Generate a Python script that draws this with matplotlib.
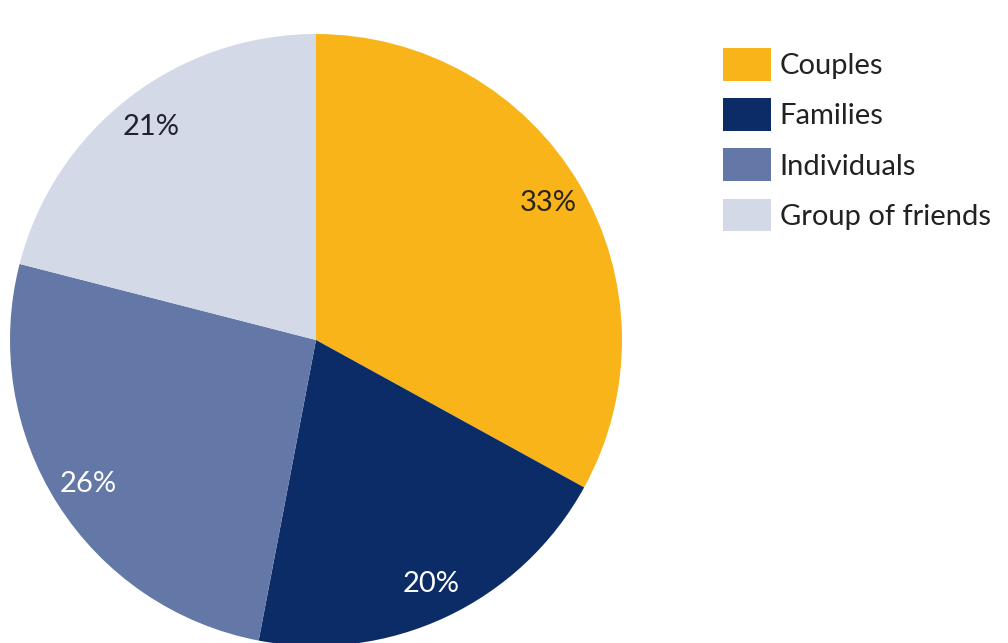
import matplotlib
matplotlib.use("Agg")
import matplotlib.pyplot as plt

# data
labels = ["Couples", "Families", "Individuals", "Group of friends"]
shares = [33, 20, 26, 21]
colors = ["#F8B418", "#0B2C67", "#6478A7", "#D4D9E8"]
pct_colors = ["#2a2418", "white", "white", "#1e2230"]

plt.rcParams['font.family'] = ['Lato', 'DejaVu Sans']

fig = plt.figure(figsize=(10.08, 6.43), dpi=100)
# pie axes: centre ~ (316, 340) px, radius ~ 306 px
W, H = 1008.0, 643.0
cx, cy, r = 316, 340, 306
ax = fig.add_axes([(cx - r) / W, (H - cy - r) / H, 2 * r / W, 2 * r / H])

wedges, texts, autotexts = ax.pie(
    shares, colors=colors, startangle=90, counterclock=False,
    autopct='%d%%', pctdistance=0.88, radius=1.0,
    wedgeprops=dict(linewidth=0),
    textprops=dict(fontsize=21))
for t, c in zip(autotexts, pct_colors):
    t.set_color(c)
ax.set_aspect('equal')
ax.set_xlim(-1, 1)
ax.set_ylim(-1, 1)

leg = fig.legend(wedges, labels, loc='upper left',
                 bbox_to_anchor=(723 / W, 1 - 48 / H),
                 frameon=False, fontsize=21, borderpad=0, borderaxespad=0,
                 handlelength=1.65, handleheight=1.35, labelspacing=0.6,
                 handletextpad=0.3)
for t in leg.get_texts():
    t.set_color('#222222')

fig.savefig("out.png", dpi=100, facecolor='white')
